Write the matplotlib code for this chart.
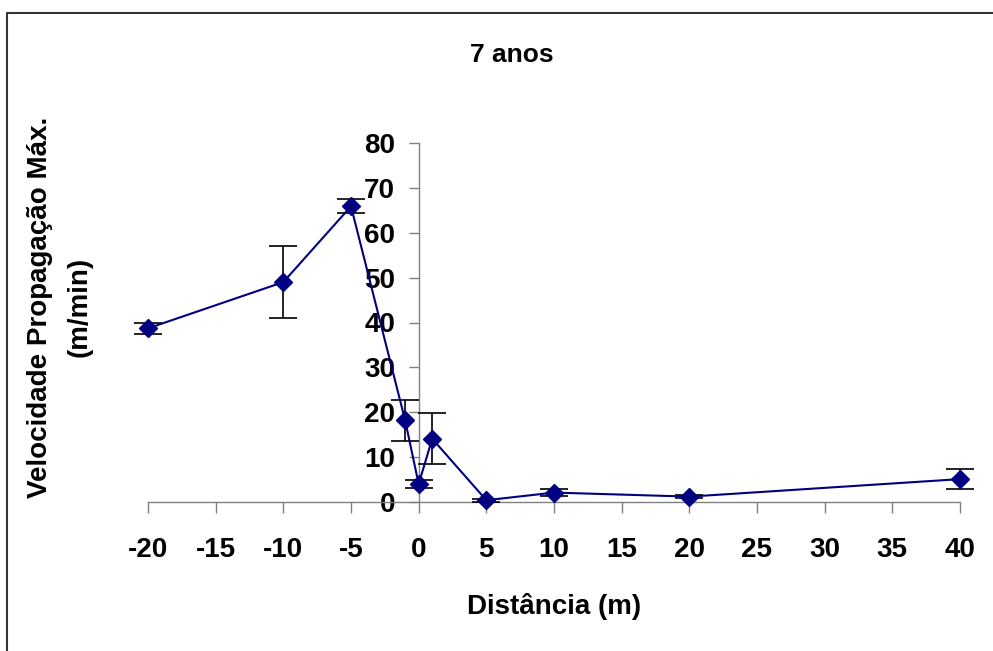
from matplotlib import pyplot as plt
from matplotlib.lines import Line2D

# dados (7 anos)
distancia = [-20, -10, -5, -1, 0, 1, 5, 10, 20, 40]
velocidade = [38.7, 49.0, 65.9, 18.2, 4.0, 14.1, 0.4, 2.1, 1.2, 5.1]
erro = [1.2, 8.0, 1.6, 4.6, 0.8, 5.7, 0.3, 0.8, 0.4, 2.2]

xticks = list(range(-20, 45, 5))
yticks = list(range(0, 90, 10))

plt.rcParams['font.family'] = ['Liberation Sans', 'DejaVu Sans']
plt.rcParams['font.weight'] = 'bold'

W, H = 993, 651
fig = plt.figure(figsize=(W/100.0, H/100.0), dpi=100)
ax = fig.add_axes([148.0/W, 1-502.0/H, (960-148.0)/W, (502-143.0)/H])

lines = ax.errorbar(distancia, velocidade, yerr=erro, color='#000080', lw=1.5,
                    marker='D', ms=9, mfc='#000080', mec='#000080',
                    ecolor='black', elinewidth=1.2, capsize=10, capthick=1.2, zorder=3)
for art in lines.get_children():
	art.set_clip_on(False)

ax.set_xlim(-20, 40)
ax.set_ylim(0, 80)
ax.set_xticks(xticks)
ax.set_yticks(yticks)

for s in ['top', 'right']:
	ax.spines[s].set_visible(False)
ax.spines['left'].set_position(('data', 0))
for s in ['left', 'bottom']:
	ax.spines[s].set_color('#808080')
	ax.spines[s].set_linewidth(1.0)

ax.tick_params(axis='x', direction='out', length=8, width=1, color='#808080',
               labelsize=20, pad=17)
ax.tick_params(axis='y', direction='out', length=7, width=1, color='#808080',
               labelsize=20, pad=10)
for lab in ax.get_xticklabels() + ax.get_yticklabels():
	lab.set_fontweight('bold')

ax.set_xticklabels([str(t) for t in xticks])

fig.text(512.0/W, 1-55.0/H, '7 anos', ha='center', va='center',
         fontsize=19, fontweight='bold')
fig.text(554.0/W, 1-607.0/H, 'Distância (m)', ha='center', va='center',
         fontsize=20, fontweight='bold')
fig.text(60.0/W, 1-307.0/H, 'Velocidade Propagação Máx.\n(m/min)', rotation=90,
         ha='center', va='center', multialignment='center', linespacing=1.7,
         fontsize=20, fontweight='bold')

# moldura do grafico (estilo excel)
fig.lines.append(Line2D([7.0/W, 7.0/W, 1.0], [0.0, 1-13.0/H, 1-13.0/H],
                        transform=fig.transFigure, color='#333333', lw=1.5))

fig.savefig('out.png', dpi=100)
